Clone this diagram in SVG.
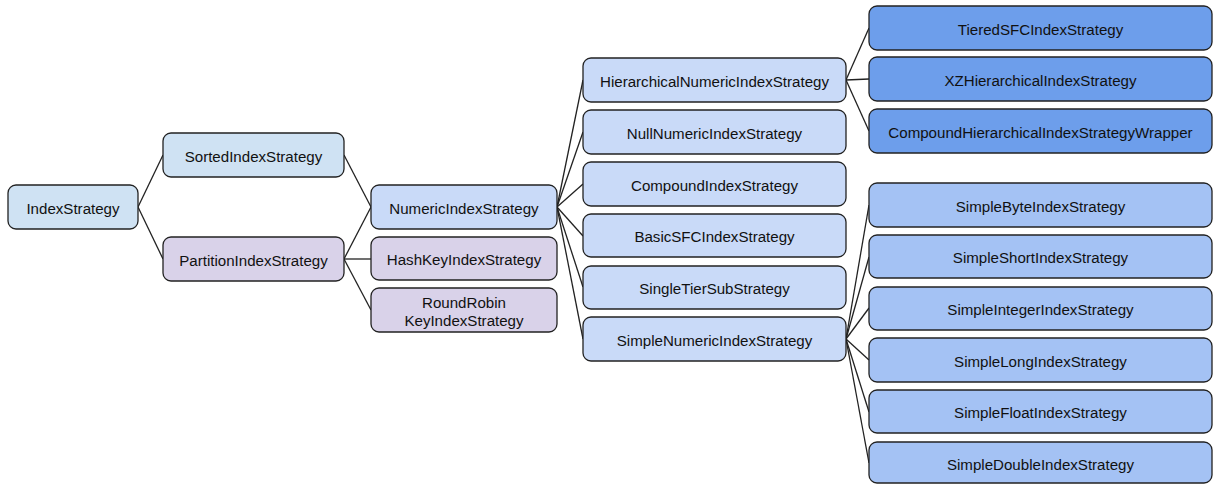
<svg xmlns="http://www.w3.org/2000/svg" width="1213" height="484" viewBox="0 0 1213 484">
  <style>
    .box { stroke: #222; stroke-width: 1.3; }
    .base { fill: #cfe2f3; }
    .part { fill: #d9d2e9; }
    .num { fill: #c9daf8; }
    .hier { fill: #6d9eeb; }
    .simple { fill: #a4c2f4; }
    text { font-family: "Liberation Sans", Arial, sans-serif; font-size: 15.1px; fill: #111; text-anchor: middle; dominant-baseline: central; }
    .edge { stroke: #222; stroke-width: 1.3; fill: none; }
  </style>
  <rect width="1213" height="484" fill="#fff"/>

  <!-- connectors: parent right-middle to child left-middle -->
  <g id="connectors" class="edge">
    <line x1="138" y1="207" x2="163" y2="155"/>
    <line x1="138" y1="207" x2="163" y2="259"/>
    <line x1="344" y1="155" x2="371" y2="207"/>
    <line x1="344" y1="259" x2="371" y2="207"/>
    <line x1="344" y1="259" x2="371" y2="259"/>
    <line x1="344" y1="259" x2="371" y2="310"/>
    <line x1="557" y1="207" x2="583" y2="80"/>
    <line x1="557" y1="207" x2="583" y2="132"/>
    <line x1="557" y1="207" x2="583" y2="184"/>
    <line x1="557" y1="207" x2="583" y2="236"/>
    <line x1="557" y1="207" x2="583" y2="287"/>
    <line x1="557" y1="207" x2="583" y2="339"/>
    <line x1="846" y1="80" x2="869" y2="28"/>
    <line x1="846" y1="80" x2="869" y2="79"/>
    <line x1="846" y1="80" x2="869" y2="131"/>
    <line x1="846" y1="339" x2="869" y2="205"/>
    <line x1="846" y1="339" x2="869" y2="257"/>
    <line x1="846" y1="339" x2="869" y2="308"/>
    <line x1="846" y1="339" x2="869" y2="360"/>
    <line x1="846" y1="339" x2="869" y2="412"/>
    <line x1="846" y1="339" x2="869" y2="463"/>
  </g>

  <g id="IndexStrategy"><rect class="box base" x="8" y="185" width="130" height="44" rx="8"/><text x="73" y="208">IndexStrategy</text></g>
  <g id="SortedIndexStrategy"><rect class="box base" x="163" y="133" width="181" height="44" rx="8"/><text x="253.5" y="156">SortedIndexStrategy</text></g>
  <g id="PartitionIndexStrategy"><rect class="box part" x="163" y="237" width="181" height="44" rx="8"/><text x="253.5" y="260">PartitionIndexStrategy</text></g>

  <g id="NumericIndexStrategy"><rect class="box num" x="371" y="185" width="186" height="44" rx="8"/><text x="464" y="208">NumericIndexStrategy</text></g>
  <g id="HashKeyIndexStrategy"><rect class="box part" x="371" y="237" width="186" height="43" rx="8"/><text x="464" y="259.5">HashKeyIndexStrategy</text></g>
  <g id="RoundRobinKeyIndexStrategy"><rect class="box part" x="371" y="288" width="186" height="44" rx="8"/><text x="464" y="302">RoundRobin</text><text x="464" y="320">KeyIndexStrategy</text></g>

  <g id="HierarchicalNumericIndexStrategy"><rect class="box num" x="583" y="58" width="263" height="44" rx="8"/><text x="714.5" y="81">HierarchicalNumericIndexStrategy</text></g>
  <g id="NullNumericIndexStrategy"><rect class="box num" x="583" y="110" width="263" height="44" rx="8"/><text x="714.5" y="133">NullNumericIndexStrategy</text></g>
  <g id="CompoundIndexStrategy"><rect class="box num" x="583" y="162" width="263" height="44" rx="8"/><text x="714.5" y="185">CompoundIndexStrategy</text></g>
  <g id="BasicSFCIndexStrategy"><rect class="box num" x="583" y="214" width="263" height="43" rx="8"/><text x="714.5" y="236.5">BasicSFCIndexStrategy</text></g>
  <g id="SingleTierSubStrategy"><rect class="box num" x="583" y="266" width="263" height="43" rx="8"/><text x="714.5" y="288.5">SingleTierSubStrategy</text></g>
  <g id="SimpleNumericIndexStrategy"><rect class="box num" x="583" y="317" width="263" height="44" rx="8"/><text x="714.5" y="340">SimpleNumericIndexStrategy</text></g>

  <g id="TieredSFCIndexStrategy"><rect class="box hier" x="869" y="6" width="343" height="44" rx="8"/><text x="1040.5" y="29">TieredSFCIndexStrategy</text></g>
  <g id="XZHierarchicalIndexStrategy"><rect class="box hier" x="869" y="57" width="343" height="44" rx="8"/><text x="1040.5" y="80">XZHierarchicalIndexStrategy</text></g>
  <g id="CompoundHierarchicalIndexStrategyWrapper"><rect class="box hier" x="869" y="109" width="343" height="44" rx="8"/><text x="1040.5" y="132">CompoundHierarchicalIndexStrategyWrapper</text></g>

  <g id="SimpleByteIndexStrategy"><rect class="box simple" x="869" y="183" width="343" height="44" rx="8"/><text x="1040.5" y="206">SimpleByteIndexStrategy</text></g>
  <g id="SimpleShortIndexStrategy"><rect class="box simple" x="869" y="235" width="343" height="43" rx="8"/><text x="1040.5" y="257.5">SimpleShortIndexStrategy</text></g>
  <g id="SimpleIntegerIndexStrategy"><rect class="box simple" x="869" y="287" width="343" height="43" rx="8"/><text x="1040.5" y="309">SimpleIntegerIndexStrategy</text></g>
  <g id="SimpleLongIndexStrategy"><rect class="box simple" x="869" y="338" width="343" height="44" rx="8"/><text x="1040.5" y="361">SimpleLongIndexStrategy</text></g>
  <g id="SimpleFloatIndexStrategy"><rect class="box simple" x="869" y="390" width="343" height="43" rx="8"/><text x="1040.5" y="412.5">SimpleFloatIndexStrategy</text></g>
  <g id="SimpleDoubleIndexStrategy"><rect class="box simple" x="869" y="442" width="343" height="41" rx="8"/><text x="1040.5" y="464">SimpleDoubleIndexStrategy</text></g>
</svg>
